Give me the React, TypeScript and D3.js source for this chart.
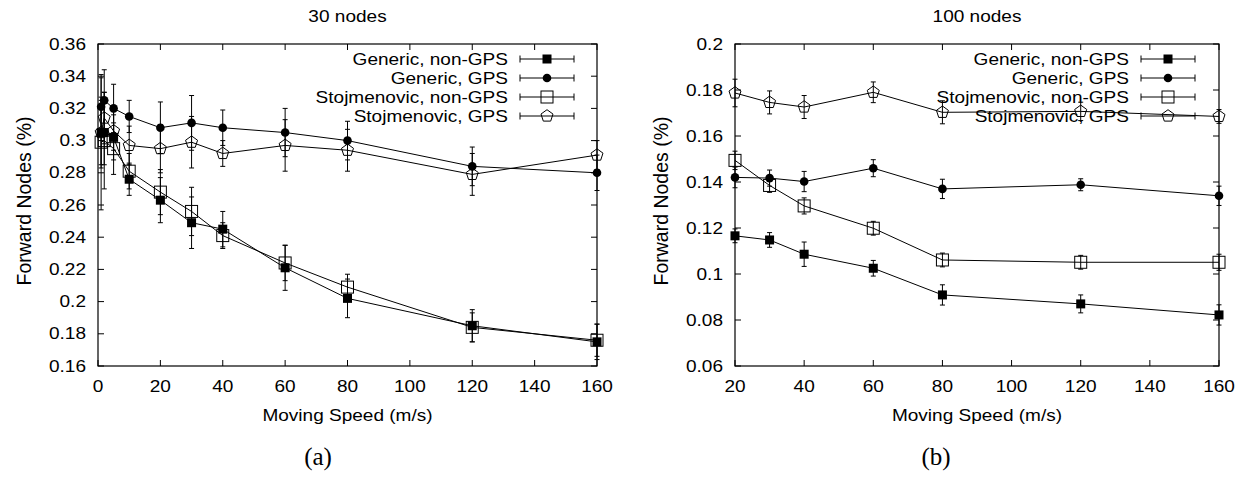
import React from "react";
import * as d3 from "d3";

// ---------- data ----------
const speeds30 = [1, 2, 5, 10, 20, 30, 40, 60, 80, 120, 160];
const genNonGps30 = [0.305, 0.305, 0.302, 0.276, 0.263, 0.249, 0.245, 0.221, 0.202, 0.185, 0.175];
const genNonGps30Err = [0.022, 0.02, 0.014, 0.01, 0.014, 0.016, 0.011, 0.014, 0.012, 0.01, 0.011];
const genGps30 = [0.321, 0.325, 0.32, 0.315, 0.308, 0.311, 0.308, 0.305, 0.3, 0.284, 0.28];
const genGps30Err = [0.018, 0.019, 0.015, 0.01, 0.016, 0.017, 0.011, 0.015, 0.012, 0.012, 0.011];
const stojNonGps30 = [0.299, 0.3, 0.295, 0.281, 0.268, 0.256, 0.241, 0.224, 0.209, 0.184, 0.176];
const stojNonGps30Err = [0.042, 0.03, 0.016, 0.011, 0.014, 0.015, 0.008, 0.011, 0.008, 0.009, 0.01];
const stojGps30 = [0.305, 0.314, 0.306, 0.297, 0.295, 0.299, 0.292, 0.297, 0.294, 0.279, 0.291];
const stojGps30Err = [0.02, 0.016, 0.012, 0.012, 0.015, 0.016, 0.008, 0.016, 0.013, 0.013, 0.009];

const speeds100 = [20, 30, 40, 60, 80, 120, 160];
const genNonGps100 = [0.1166, 0.1148, 0.1086, 0.1025, 0.0909, 0.087, 0.0822];
const genNonGps100Err = [0.003, 0.0032, 0.0053, 0.0034, 0.0044, 0.0039, 0.0044];
const genGps100 = [0.142, 0.1417, 0.1402, 0.146, 0.137, 0.1388, 0.134];
const genGps100Err = [0.0045, 0.0035, 0.0044, 0.0037, 0.0042, 0.0026, 0.0042];
const stojNonGps100 = [0.1494, 0.1385, 0.1296, 0.1199, 0.1061, 0.1051, 0.1051];
const stojNonGps100Err = [0.004, 0.003, 0.0035, 0.003, 0.003, 0.003, 0.0035];
const stojGps100 = [0.1787, 0.1746, 0.1726, 0.179, 0.1703, 0.1707, 0.1685];
const stojGps100Err = [0.006, 0.005, 0.005, 0.0045, 0.005, 0.004, 0.003];

const seriesNames = ["Generic, non-GPS", "Generic, GPS", "Stojmenovic, non-GPS", "Stojmenovic, GPS"];
const markerKinds = ["fsquare", "fcircle", "osquare", "opentagon"];

const xTicks30 = [0, 20, 40, 60, 80, 100, 120, 140, 160];
const yTicks30 = [0.16, 0.18, 0.2, 0.22, 0.24, 0.26, 0.28, 0.3, 0.32, 0.34, 0.36];
const xTicks100 = [20, 40, 60, 80, 100, 120, 140, 160];
const yTicks100 = [0.06, 0.08, 0.1, 0.12, 0.14, 0.16, 0.18, 0.2];

const SANS = "'Liberation Sans', Arial, Helvetica, sans-serif";
const FS = 17;
const SX = 1.12;

function T({ x, y, anchor = "middle", children, size = FS }: any) {
  return (
    <text
      transform={`translate(${x},${y}) scale(${SX},1)`}
      textAnchor={anchor}
      dominantBaseline="central"
      fontFamily={SANS}
      fontSize={size}
      fill="#000"
    >
      {children}
    </text>
  );
}

function Marker({ kind, x, y }: any) {
  if (kind === "fsquare") return <rect x={x - 4.5} y={y - 4.5} width={9} height={9} fill="#000" />;
  if (kind === "fcircle") return <circle cx={x} cy={y} r={4.3} fill="#000" />;
  if (kind === "osquare")
    return <rect x={x - 6} y={y - 6} width={12} height={12} fill="none" stroke="#000" strokeWidth={1} />;
  const r = 6.3;
  const pts = d3.range(5).map((k) => {
    const a = (-90 + 72 * k) * (Math.PI / 180);
    return [x + r * Math.cos(a), y + r * Math.sin(a)].join(",");
  });
  return <polygon points={pts.join(" ")} fill="none" stroke="#000" strokeWidth={1} />;
}

function Panel({ x0, x1, y0, y1, xDom, yDom, xTicks, yTicks, xs, series, errs, title, legendRight, tag, tagX }: any) {
  const xS = d3.scaleLinear().domain(xDom).range([x0, x1]);
  const yS = d3.scaleLinear().domain(yDom).range([y1, y0]);
  const line = d3.line<number>().x((_, i) => xS(xs[i])).y((v) => yS(v));
  const tl = 6;
  const cx = (x0 + x1) / 2;
  const fmt = (v: number) => String(+v.toFixed(2));
  return (
    <g>
      <T x={cx} y={16}>{title}</T>
      {/* error bars, lines, markers */}
      {series.map((vals: number[], si: number) => (
        <g key={si}>
          <path d={line(vals) || ""} fill="none" stroke="#000" strokeWidth={1} />
          {vals.map((v, i) => {
            const px = xS(xs[i]);
            const top = yS(v + errs[si][i]);
            const bot = yS(v - errs[si][i]);
            return (
              <g key={i} stroke="#000" strokeWidth={1}>
                <line x1={px} x2={px} y1={top} y2={bot} />
                <line x1={px - 2.5} x2={px + 2.5} y1={top} y2={top} />
                <line x1={px - 2.5} x2={px + 2.5} y1={bot} y2={bot} />
              </g>
            );
          })}
          {vals.map((v, i) => (
            <Marker key={"m" + i} kind={markerKinds[si]} x={xS(xs[i])} y={yS(v)} />
          ))}
        </g>
      ))}
      {/* frame */}
      <rect x={x0} y={y0} width={x1 - x0} height={y1 - y0} fill="none" stroke="#000" strokeWidth={1.2} />
      {xTicks.map((t: number) => (
        <g key={"xt" + t} stroke="#000" strokeWidth={1}>
          <line x1={xS(t)} x2={xS(t)} y1={y1} y2={y1 - tl} />
          <line x1={xS(t)} x2={xS(t)} y1={y0} y2={y0 + tl} />
        </g>
      ))}
      {yTicks.map((t: number) => (
        <g key={"yt" + t} stroke="#000" strokeWidth={1}>
          <line x1={x0} x2={x0 + tl} y1={yS(t)} y2={yS(t)} />
          <line x1={x1} x2={x1 - tl} y1={yS(t)} y2={yS(t)} />
        </g>
      ))}
      {xTicks.map((t: number) => (
        <T key={"xl" + t} x={xS(t)} y={386}>{String(t)}</T>
      ))}
      {yTicks.map((t: number) => (
        <T key={"yl" + t} x={x0 - 12} y={yS(t)} anchor="end">{fmt(t)}</T>
      ))}
      <T x={cx} y={415}>Moving Speed (m/s)</T>
      <text
        transform={`translate(${x0 - 74},${201}) rotate(-90)`}
        textAnchor="middle"
        dominantBaseline="central"
        fontFamily={SANS}
        fontSize={19.5}
      >
        Forward Nodes (%)
      </text>
      {/* legend */}
      {seriesNames.map((name, si) => {
        const ly = 59 + si * 19;
        const lx0 = legendRight + 12;
        const lx1 = legendRight + 66;
        return (
          <g key={"lg" + si}>
            <T x={legendRight} y={ly} anchor="end">{name}</T>
            <g stroke="#000" strokeWidth={1}>
              <line x1={lx0} x2={lx1} y1={ly} y2={ly} />
              <line x1={lx0} x2={lx0} y1={ly - 3.5} y2={ly + 3.5} />
              <line x1={lx1} x2={lx1} y1={ly - 3.5} y2={ly + 3.5} />
            </g>
            <Marker kind={markerKinds[si]} x={(lx0 + lx1) / 2} y={ly} />
          </g>
        );
      })}
      <text
        x={tagX}
        y={456}
        textAnchor="middle"
        dominantBaseline="central"
        fontFamily="'Liberation Serif', 'Times New Roman', serif"
        fontSize={25}
      >
        {tag}
      </text>
    </g>
  );
}

export default function App() {
  return (
    <div style={{ position: "absolute", left: 0, top: 0 }}>
      <svg width={1244} height={481} style={{ display: "block", background: "#fff" }}>
        <rect width={1244} height={481} fill="#fff" />
        <Panel
          x0={98}
          x1={597}
          y0={44}
          y1={366}
          xDom={[0, 160]}
          yDom={[0.16, 0.36]}
          xTicks={xTicks30}
          yTicks={yTicks30}
          xs={speeds30}
          series={[genNonGps30, genGps30, stojNonGps30, stojGps30]}
          errs={[genNonGps30Err, genGps30Err, stojNonGps30Err, stojGps30Err]}
          title="30 nodes"
          legendRight={508}
          tag="(a)"
          tagX={318}
        />
        <Panel
          x0={735}
          x1={1219}
          y0={44}
          y1={366}
          xDom={[20, 160]}
          yDom={[0.06, 0.2]}
          xTicks={xTicks100}
          yTicks={yTicks100}
          xs={speeds100}
          series={[genNonGps100, genGps100, stojNonGps100, stojGps100]}
          errs={[genNonGps100Err, genGps100Err, stojNonGps100Err, stojGps100Err]}
          title="100 nodes"
          legendRight={1129}
          tag="(b)"
          tagX={936}
        />
      </svg>
    </div>
  );
}
